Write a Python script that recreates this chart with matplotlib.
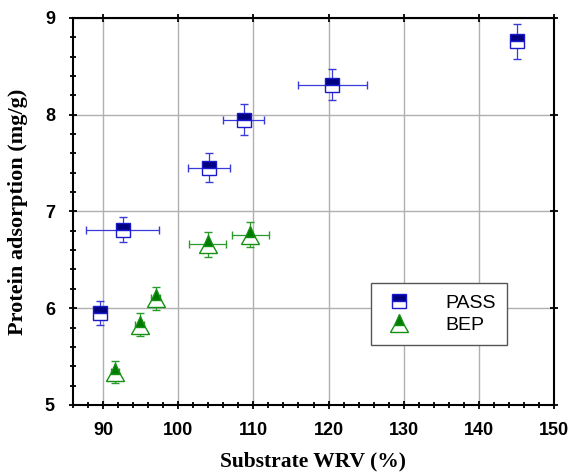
import numpy as np
import matplotlib.pyplot as plt
from matplotlib.ticker import MultipleLocator

# substrate WRV (%) vs protein adsorption (mg/g)
pass_wrv = [89.6, 92.6, 104.1, 108.7, 120.5, 145.1]
pass_wrv_err = [0.6, 4.8, 2.8, 2.7, 4.6, 0.7]
pass_ads = [5.95, 6.81, 7.45, 7.95, 8.31, 8.76]
pass_ads_err = [0.12, 0.13, 0.15, 0.16, 0.16, 0.18]

bep_wrv = [91.6, 94.9, 97.0, 103.9, 109.6]
bep_wrv_err = [0.5, 0.6, 0.6, 2.4, 2.5]
bep_ads = [5.34, 5.83, 6.10, 6.66, 6.76]
bep_ads_err = [0.11, 0.12, 0.12, 0.13, 0.13]

fig = plt.figure(figsize=(5.7, 4.73), dpi=100)
ax = fig.add_axes([0.128, 0.144, 0.844, 0.818])

ax.errorbar(pass_wrv, pass_ads, xerr=pass_wrv_err, yerr=pass_ads_err,
            fmt="s", ms=10.5, fillstyle="top", mfc="#000080", mfcalt="white",
            mec="#1a1acc", mew=1.0, ecolor="#3a3ad8", elinewidth=0.9,
            capsize=3, capthick=0.9, label="PASS", zorder=3)
ax.errorbar(bep_wrv, bep_ads, xerr=bep_wrv_err, yerr=bep_ads_err,
            fmt="^", ms=13, fillstyle="top", mfc="#007a00", mfcalt="white",
            mec="#129012", mew=1.0, ecolor="#2a9a2a", elinewidth=0.9,
            capsize=3, capthick=0.9, label="BEP", zorder=3)

ax.set_xlim(86, 150)
ax.set_ylim(5, 9)
ax.xaxis.set_major_locator(MultipleLocator(10))
ax.xaxis.set_minor_locator(MultipleLocator(2))
ax.yaxis.set_major_locator(MultipleLocator(1))
ax.yaxis.set_minor_locator(MultipleLocator(0.2))
ax.grid(True, which="major", color="#b0b0b0", lw=1.0)
ax.set_axisbelow(True)

for s in ax.spines.values():
    s.set_linewidth(1.5)

ax.tick_params(which="both", top=True, right=True, width=1.3)
ax.tick_params(which="major", length=6)
ax.tick_params(which="minor", length=4)
ax.tick_params(axis="x", which="both", direction="inout")
ax.tick_params(axis="y", which="both", direction="inout")
for t in ax.xaxis.get_major_ticks() + ax.xaxis.get_minor_ticks():
    t.tick2line.set_markersize(t.tick2line.get_markersize() * 0.5)
for t in ax.yaxis.get_major_ticks() + ax.yaxis.get_minor_ticks():
    t.tick2line.set_markersize(t.tick2line.get_markersize() * 0.5)

for lab in ax.get_xticklabels() + ax.get_yticklabels():
    lab.set_fontfamily("Liberation Sans")
    lab.set_fontweight("bold")
    lab.set_fontsize(13)
ax.tick_params(axis="x", pad=9)
ax.tick_params(axis="y", pad=10)

ax.set_xlabel("Substrate WRV (%)", family="Liberation Serif",
              fontweight="bold", fontsize=15.5, labelpad=9)
ax.set_ylabel("Protein adsorption (mg/g)", family="Liberation Serif",
              fontweight="bold", fontsize=16, labelpad=12)

handles, labels = ax.get_legend_handles_labels()
handles = [h[0] for h in handles]
leg = ax.legend(handles, labels, loc="lower left", bbox_to_anchor=(0.619, 0.155),
                fancybox=False, edgecolor="#555555", framealpha=1,
                prop={"family": "Liberation Sans", "size": 14},
                handletextpad=1.5, borderpad=0.55, borderaxespad=0,
                labelspacing=0.25, handlelength=1.8)
leg.get_frame().set_linewidth(1.0)

fig.savefig("out.png", dpi=100)
